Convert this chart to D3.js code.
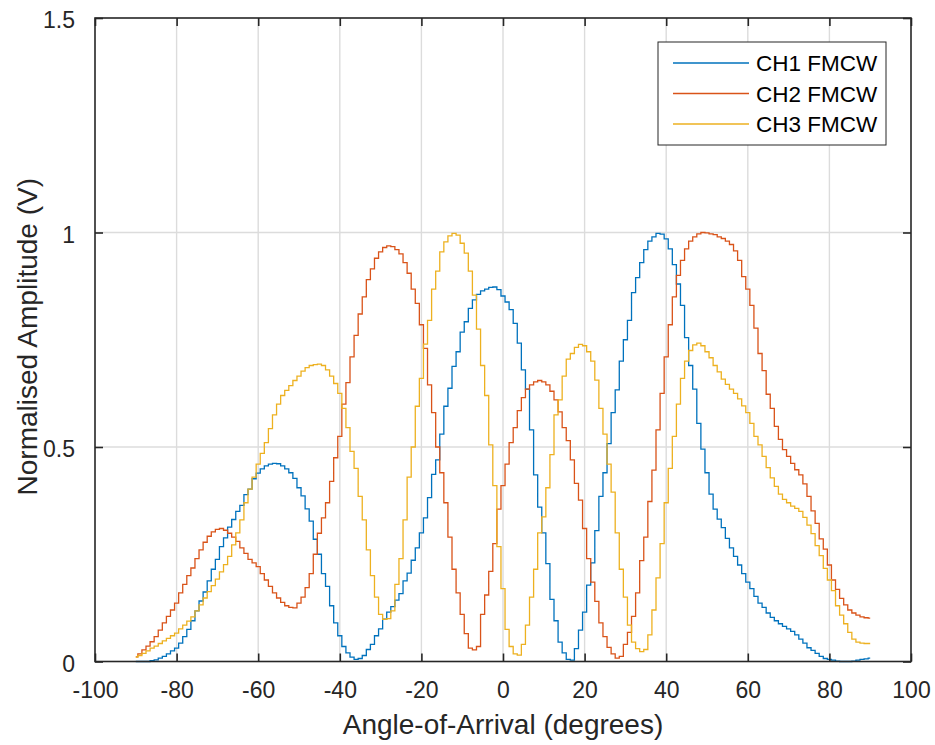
<!DOCTYPE html>
<html>
<head>
<meta charset="utf-8">
<script src="https://cdn.jsdelivr.net/npm/d3@7"></script>
<style>
  html, body { margin: 0; padding: 0; background: #fff; }
  svg { display: block; font-family: "Liberation Sans", Arial, Helvetica, sans-serif; }
</style>
</head>
<body>
<svg id="chart" width="935" height="745"></svg>
<script>
// ---------------- DATA ----------------
const angleStart = -90;   // degrees, 1-degree sampling
const angleEnd = 90;

const seriesNames = ["CH1 FMCW", "CH2 FMCW", "CH3 FMCW"];

const ch1 = [
  0.000,0.000,0.000,0.000,0.002,0.004,0.008,0.012,0.018,0.025,
  0.031,0.043,0.058,0.075,0.095,0.118,0.141,0.162,0.188,0.215,
  0.238,0.268,0.288,0.313,0.331,0.350,0.364,0.389,0.402,0.426,
  0.439,0.449,0.456,0.460,0.462,0.461,0.456,0.449,0.440,0.427,
  0.405,0.386,0.356,0.327,0.285,0.250,0.205,0.175,0.130,0.090,
  0.060,0.035,0.020,0.010,0.005,0.007,0.014,0.028,0.040,0.060,
  0.076,0.099,0.115,0.128,0.143,0.158,0.188,0.206,0.236,0.265,
  0.300,0.335,0.382,0.436,0.470,0.530,0.595,0.637,0.688,0.722,
  0.768,0.792,0.823,0.843,0.856,0.864,0.868,0.872,0.873,0.867,
  0.852,0.838,0.820,0.788,0.742,0.680,0.635,0.540,0.435,0.360,
  0.300,0.228,0.145,0.095,0.045,0.020,0.005,0.003,0.030,0.073,
  0.115,0.178,0.230,0.305,0.385,0.440,0.508,0.580,0.633,0.700,
  0.750,0.795,0.860,0.895,0.930,0.960,0.980,0.990,0.998,0.996,
  0.985,0.962,0.925,0.880,0.830,0.755,0.690,0.635,0.555,0.495,
  0.440,0.390,0.355,0.332,0.312,0.287,0.265,0.245,0.225,0.205,
  0.185,0.170,0.152,0.136,0.126,0.113,0.103,0.095,0.088,0.082,
  0.076,0.070,0.062,0.052,0.043,0.032,0.026,0.019,0.012,0.007,
  0.005,0.003,0.001,0.000,0.000,0.000,0.001,0.003,0.005,0.006,
  0.008
];

const ch2 = [
  0.011,0.018,0.027,0.036,0.046,0.058,0.073,0.090,0.105,0.120,
  0.136,0.160,0.180,0.200,0.218,0.240,0.260,0.278,0.292,0.302,
  0.308,0.310,0.306,0.299,0.290,0.280,0.265,0.252,0.238,0.230,
  0.221,0.205,0.190,0.175,0.160,0.148,0.138,0.130,0.126,0.125,
  0.136,0.150,0.172,0.205,0.250,0.299,0.335,0.370,0.420,0.475,
  0.525,0.600,0.650,0.710,0.760,0.810,0.850,0.890,0.915,0.940,
  0.955,0.965,0.969,0.967,0.960,0.950,0.930,0.905,0.868,0.835,
  0.785,0.730,0.645,0.580,0.500,0.440,0.370,0.290,0.215,0.160,
  0.110,0.065,0.031,0.027,0.035,0.110,0.155,0.210,0.275,0.355,
  0.410,0.460,0.510,0.545,0.585,0.615,0.635,0.645,0.652,0.655,
  0.652,0.645,0.630,0.610,0.582,0.545,0.515,0.470,0.415,0.376,
  0.310,0.240,0.185,0.140,0.090,0.058,0.033,0.018,0.008,0.012,
  0.040,0.068,0.105,0.160,0.235,0.290,0.373,0.446,0.540,0.625,
  0.710,0.785,0.850,0.900,0.935,0.962,0.980,0.990,0.997,1.000,
  0.999,0.997,0.995,0.990,0.986,0.980,0.972,0.957,0.935,0.897,
  0.868,0.830,0.777,0.718,0.678,0.623,0.590,0.548,0.518,0.494,
  0.478,0.462,0.447,0.435,0.414,0.385,0.351,0.322,0.286,0.262,
  0.225,0.190,0.168,0.147,0.132,0.120,0.113,0.108,0.104,0.102,
  0.101
];

const ch3 = [
  0.010,0.014,0.019,0.025,0.031,0.036,0.042,0.048,0.054,0.060,
  0.066,0.076,0.085,0.094,0.104,0.118,0.132,0.148,0.163,0.177,
  0.192,0.209,0.226,0.245,0.272,0.300,0.330,0.370,0.402,0.430,
  0.460,0.485,0.510,0.543,0.575,0.600,0.620,0.632,0.643,0.655,
  0.665,0.677,0.685,0.690,0.692,0.693,0.690,0.680,0.665,0.648,
  0.625,0.590,0.545,0.490,0.450,0.385,0.330,0.260,0.200,0.150,
  0.110,0.098,0.100,0.118,0.180,0.240,0.330,0.430,0.500,0.595,
  0.660,0.740,0.795,0.868,0.910,0.955,0.978,0.992,0.998,0.994,
  0.975,0.952,0.910,0.854,0.775,0.690,0.620,0.505,0.410,0.268,
  0.170,0.075,0.035,0.018,0.015,0.040,0.085,0.150,0.215,0.300,
  0.337,0.405,0.482,0.575,0.610,0.665,0.705,0.718,0.732,0.739,
  0.736,0.722,0.700,0.656,0.590,0.530,0.460,0.395,0.300,0.215,
  0.150,0.085,0.045,0.030,0.023,0.028,0.062,0.120,0.195,0.275,
  0.370,0.450,0.525,0.600,0.660,0.700,0.725,0.738,0.742,0.736,
  0.722,0.708,0.690,0.675,0.658,0.646,0.635,0.625,0.612,0.596,
  0.580,0.555,0.525,0.505,0.478,0.452,0.428,0.408,0.390,0.378,
  0.370,0.362,0.357,0.350,0.336,0.318,0.298,0.270,0.247,0.217,
  0.190,0.165,0.130,0.108,0.088,0.068,0.052,0.045,0.043,0.042,
  0.042
];

const xTicks = [-100, -80, -60, -40, -20, 0, 20, 40, 60, 80, 100];
const xTickLabels = ["-100", "-80", "-60", "-40", "-20", "0", "20", "40", "60", "80", "100"];
const yTicks = [0, 0.5, 1, 1.5];
const yTickLabels = ["0", "0.5", "1", "1.5"];
const colors = ["#0072BD", "#D95319", "#EDB120"];
const xLabel = "Angle-of-Arrival (degrees)";
const yLabel = "Normalised Amplitude (V)";

// ---------------- CHART ----------------
const svg = d3.select("#chart");
const m = { left: 95, top: 18, right: 911, bottom: 661.5 };
const x = d3.scaleLinear().domain([-100, 100]).range([m.left, m.right]);
const y = d3.scaleLinear().domain([0, 1.5]).range([m.bottom, m.top]);

const angles = d3.range(angleStart, angleEnd + 1);
const allSeries = [ch1, ch2, ch3].map((vals, i) => ({
  name: seriesNames[i],
  color: colors[i],
  points: vals.map((v, j) => ({ a: angles[j], v }))
}));

const axisColor = "#262626";
const gridColor = "#dcdcdc";

// Grid
const grid = svg.append("g");
grid.selectAll("line.gx").data(xTicks.slice(1, -1)).join("line")
  .attr("x1", d => x(d)).attr("x2", d => x(d))
  .attr("y1", m.top).attr("y2", m.bottom)
  .attr("stroke", gridColor).attr("stroke-width", 1.4);
grid.selectAll("line.gy").data(yTicks.slice(1, -1)).join("line")
  .attr("y1", d => y(d)).attr("y2", d => y(d))
  .attr("x1", m.left).attr("x2", m.right)
  .attr("stroke", gridColor).attr("stroke-width", 1.4);

// Lines
const line = d3.line()
  .x(d => x(d.a)).y(d => y(d.v))
  .curve(d3.curveStep);

svg.append("g").selectAll("path").data(allSeries).join("path")
  .attr("d", d => line(d.points))
  .attr("fill", "none")
  .attr("stroke", d => d.color)
  .attr("stroke-width", 1.3)
  .attr("stroke-linejoin", "miter");

// Axes using d3 axis generators (ticks inward)
const tickLen = 8;
const fontSize = 23;

const xAxisB = d3.axisBottom(x).tickValues(xTicks).tickSizeInner(-tickLen).tickSizeOuter(0)
  .tickPadding(tickLen + 12).tickFormat((d, i) => xTickLabels[i]);
const xAxisT = d3.axisTop(x).tickValues(xTicks).tickSizeInner(-tickLen).tickSizeOuter(0).tickFormat("");
const yAxisL = d3.axisLeft(y).tickValues(yTicks).tickSizeInner(-tickLen).tickSizeOuter(0).tickPadding(tickLen + 12)
  .tickFormat((d, i) => yTickLabels[i]);
const yAxisR = d3.axisRight(y).tickValues(yTicks).tickSizeInner(-tickLen).tickSizeOuter(0).tickFormat("");

function styleAxis(g) {
  g.select(".domain").remove();
  g.selectAll(".tick line").attr("stroke", axisColor).attr("stroke-width", 1.6);
  g.selectAll(".tick text").attr("fill", axisColor).attr("font-size", fontSize)
    .attr("font-family", "Liberation Sans, Arial, sans-serif");
}

svg.append("g").attr("transform", `translate(0,${m.bottom})`).call(xAxisB).call(styleAxis);
svg.append("g").attr("transform", `translate(0,${m.top})`).call(xAxisT).call(styleAxis);
const gyl = svg.append("g").attr("transform", `translate(${m.left},0)`).call(yAxisL).call(styleAxis);
gyl.selectAll(".tick text").attr("dy", "0.42em");
svg.append("g").attr("transform", `translate(${m.right},0)`).call(yAxisR).call(styleAxis);

// Box
svg.append("rect")
  .attr("x", m.left).attr("y", m.top)
  .attr("width", m.right - m.left).attr("height", m.bottom - m.top)
  .attr("fill", "none").attr("stroke", axisColor).attr("stroke-width", 1.6);

// Axis labels
svg.append("text")
  .attr("x", (m.left + m.right) / 2).attr("y", 734)
  .attr("text-anchor", "middle").attr("font-size", 28).attr("fill", axisColor)
  .text(xLabel);

svg.append("text")
  .attr("transform", `translate(37,${(m.top + m.bottom) / 2 - 3}) rotate(-90)`)
  .attr("text-anchor", "middle").attr("font-size", 28).attr("fill", axisColor)
  .text(yLabel);

// Legend
const lg = svg.append("g");
lg.append("rect")
  .attr("x", 658).attr("y", 42).attr("width", 228).attr("height", 103)
  .attr("fill", "#fff").attr("stroke", axisColor).attr("stroke-width", 1);
const rows = lg.selectAll("g.row").data(allSeries).join("g")
  .attr("transform", (d, i) => `translate(0,${63 + i * 30.5})`);
rows.append("line")
  .attr("x1", 673).attr("x2", 749).attr("y1", 0).attr("y2", 0)
  .attr("stroke", d => d.color).attr("stroke-width", 1.3);
rows.append("text")
  .attr("x", 756).attr("y", 0).attr("dy", "0.36em")
  .attr("font-size", 22.5).attr("fill", "#000")
  .text(d => d.name);
</script>
</body>
</html>
